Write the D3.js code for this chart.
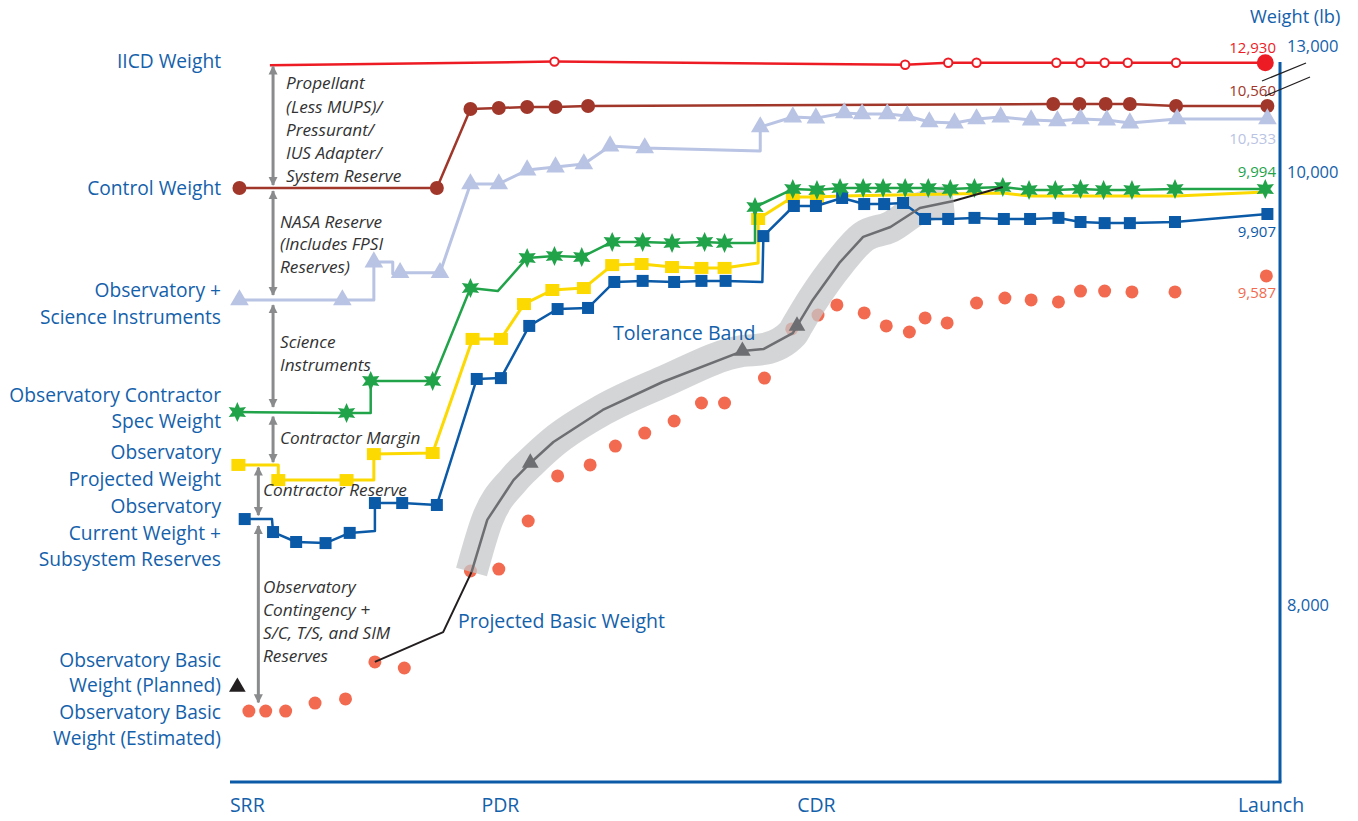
<!DOCTYPE html>
<html>
<head>
<meta charset="utf-8">
<script src="https://cdn.jsdelivr.net/npm/d3@7"></script>
<style>
body { margin: 0; background: #fff; }
text { font-family: "Open Sans", Lato, sans-serif; }
</style>
</head>
<body>
<svg id="chart" width="1358" height="821"></svg>
<script>
// x = percent of program schedule (SRR .. Launch), w = weight in lb

var milestones = ["SRR", "PDR", "CDR", "Launch"];
var milestoneX = [1.6, 25.7, 55.8, 99.1];
var weightTicks = [8000, 10000, 13000];

var iicdX = [3.8, 30.9, 64.3, 68.4, 71.1, 78.7, 81.0, 83.3, 85.5, 90.1, 98.6];
var iicdW = [12920, 12935, 12922, 12930, 12930, 12930, 12930, 12930, 12930, 12930, 12930];
var iicdMk = [0, 1, 1, 1, 1, 1, 1, 1, 1, 1, 2];

var controlX = [0.9, 19.7, 22.9, 25.6, 28.3, 31.0, 34.1, 78.4, 80.9, 83.4, 85.7, 90.1, 98.8];
var controlW = [9926, 9926, 10291, 10296, 10300, 10300, 10305, 10314, 10314, 10314, 10314, 10305, 10305];

var obsSciX = [0.9, 10.7, 13.7, 13.7, 15.5, 15.5, 16.2, 20.0, 22.9, 25.6, 28.3, 31.0, 33.7, 36.2, 39.5, 50.5, 50.5,
               53.6, 55.8, 58.5, 60.2, 62.6, 64.5, 66.6, 69.0, 71.1, 73.4, 76.3, 78.8, 81.0, 83.5, 85.7, 90.2, 98.8];
var obsSciW = [9409, 9409, 9409, 9584, 9584, 9530, 9535, 9535, 9945, 9945, 10009, 10023, 10037, 10120, 10111, 10097, 10208,
               10254, 10249, 10273, 10268, 10268, 10259, 10231, 10226, 10245, 10254, 10240, 10236, 10245, 10240, 10226, 10245, 10245];
var obsSciMk = [1, 1, 0, 1, 0, 0, 1, 1, 1, 1, 1, 1, 1, 1, 1, 0, 1,
                1, 1, 1, 1, 1, 1, 1, 1, 1, 1, 1, 1, 1, 1, 1, 1, 1];

var specX = [0.7, 11.1, 13.4, 13.4, 19.3, 22.9, 25.5, 28.3, 30.9, 33.5, 36.4, 39.3, 42.1, 45.2, 47.1, 50.0, 50.0,
             53.6, 55.9, 58.1, 60.3, 62.2, 64.3, 66.5, 68.6, 70.9, 73.6, 76.1, 78.6, 81.0, 83.2, 85.9, 90.0, 98.6];
var specW = [8891, 8887, 8887, 9035, 9035, 9464, 9450, 9603, 9612, 9607, 9677, 9677, 9672, 9677, 9672, 9672, 9838,
             9921, 9917, 9926, 9926, 9926, 9926, 9926, 9921, 9926, 9931, 9917, 9917, 9921, 9917, 9917, 9921, 9921];
var specMk = [1, 1, 0, 1, 1, 1, 0, 1, 1, 1, 1, 1, 1, 1, 1, 0, 1,
              1, 1, 1, 1, 1, 1, 1, 1, 1, 1, 1, 1, 1, 1, 1, 1, 1];

var projX = [0.8, 4.6, 4.6, 11.1, 13.7, 13.7, 19.3, 23.1, 25.8, 28.0, 30.7, 33.7, 36.4, 39.2, 42.1, 44.9, 47.1, 50.3, 50.3,
             53.6, 55.9, 58.2, 73.6, 76.2, 90.1, 98.6];
var projW = [8647, 8647, 8577, 8577, 8577, 8697, 8702, 9229, 9229, 9390, 9455, 9464, 9570, 9575, 9561, 9557, 9557, 9580, 9783,
             9885, 9885, 9889, 9903, 9889, 9889, 9908];
var projMk = [1, 0, 1, 1, 0, 1, 1, 1, 1, 1, 1, 1, 1, 1, 1, 1, 1, 0, 1,
              1, 1, 0, 0, 0, 0, 0];

var currX = [1.4, 4.0, 4.1, 6.3, 9.1, 11.4, 13.8, 13.8, 16.4, 19.7, 23.5, 25.8, 28.5, 31.2, 34.1, 36.6, 39.3, 42.3, 44.9, 47.2,
             50.7, 50.8, 53.7, 55.8, 58.3, 60.4, 62.3, 64.1, 66.2, 68.4, 70.9, 73.7, 76.2, 78.9, 81.0, 83.3, 85.7, 90.0, 98.8];
var currW = [8397, 8397, 8337, 8291, 8286, 8333, 8342, 8471, 8471, 8462, 9044, 9048, 9289, 9367, 9372, 9492, 9497, 9492, 9497, 9497,
             9492, 9704, 9843, 9843, 9880, 9852, 9852, 9857, 9783, 9783, 9788, 9783, 9783, 9788, 9769, 9764, 9764, 9769, 9806];
var currMk = [1, 0, 1, 1, 1, 1, 0, 1, 1, 1, 1, 1, 1, 1, 1, 1, 1, 1, 1, 1,
              0, 1, 1, 1, 1, 1, 1, 1, 1, 1, 1, 1, 1, 1, 1, 1, 1, 1, 1];

var estX = [1.8, 3.4, 5.3, 8.1, 11.0, 13.8, 16.6, 22.9, 25.6, 28.4, 31.2, 34.3, 36.7, 39.5, 42.3, 44.9, 47.1, 50.9,
            53.5, 56.0, 57.8, 60.4, 62.5, 64.7, 66.2, 68.3, 71.1, 73.8, 76.3, 78.9, 81.0, 83.3, 85.9, 90.0, 98.7];
var estW = [7510, 7510, 7510, 7547, 7566, 7737, 7709, 8157, 8166, 8388, 8596, 8647, 8734, 8794, 8850, 8933, 8933, 9048,
            9275, 9339, 9386, 9349, 9289, 9261, 9326, 9303, 9395, 9418, 9409, 9400, 9450, 9450, 9446, 9446, 9520];

var basicX = [13.8, 20.3, 23.0, 24.5, 27.0, 28.6, 30.8, 35.5, 41.2, 48.8, 50.8, 53.6, 54.0, 55.5, 58.1, 60.3, 62.9, 65.7, 68.9, 73.6];
var basicW = [7737, 7875, 8152, 8393, 8577, 8656, 8753, 8901, 9030, 9173, 9182, 9256, 9289, 9409, 9584, 9700, 9746, 9834, 9866, 9931];
var basicTri = [5, 9, 12];

var plannedX = [0.7];
var plannedW = [7621];

var endLabels = ["12,930", "10,560", "10,533", "9,994", "9,907", "9,587"];

// ---------------------------------------------------------------

var BLUE = "#1461ab";
var svg = d3.select("#chart");

var x = d3.scaleLinear().domain([0, 100]).range([230, 1280]);
// broken weight axis: compressed between 10,450 and 12,900
var y = d3.scaleLinear()
    .domain([7000, 10000, 10450, 12900, 13000])
    .range([821.5, 172, 74.6, 70, 46]);

function pts(xs, ws, mk) {
    return xs.map(function(v, i) { return {x: v, w: ws[i], m: mk ? mk[i] : 1}; });
}

var line = d3.line()
    .x(function(d) { return x(d.x); })
    .y(function(d) { return y(d.w); });

function star6(R, r) {
    var p = d3.path();
    for (var i = 0; i < 12; i++) {
        var a = -Math.PI / 2 + i * Math.PI / 6;
        var rr = i % 2 ? r : R;
        if (i === 0) p.moveTo(rr * Math.cos(a), rr * Math.sin(a));
        else p.lineTo(rr * Math.cos(a), rr * Math.sin(a));
    }
    p.closePath();
    return p.toString();
}

function drawLine(data, color, width) {
    svg.append("path")
        .datum(data)
        .attr("d", line)
        .attr("fill", "none")
        .attr("stroke", color)
        .attr("stroke-width", width)
        .attr("stroke-linejoin", "round");
}

// estimated basic weight dots (under the band)
svg.append("g").selectAll("circle")
    .data(pts(estX, estW))
    .enter().append("circle")
    .attr("cx", function(d) { return x(d.x); })
    .attr("cy", function(d) { return y(d.w); })
    .attr("r", 6.5)
    .attr("fill", "#f26b50");

// tolerance band
var basic = pts(basicX, basicW);
svg.append("path")
    .datum(basic.slice(2, 19))
    .attr("d", line.curve(d3.curveMonotoneX))
    .attr("fill", "none")
    .attr("stroke", "#c6c7c9")
    .attr("stroke-opacity", 0.75)
    .attr("stroke-width", 32)
    .attr("stroke-linejoin", "round");
line.curve(d3.curveLinear);

// IICD weight
var iicd = pts(iicdX, iicdW, iicdMk);
drawLine(iicd, "#ed1c24", 2.5);
svg.append("g").selectAll("circle")
    .data(iicd.filter(function(d) { return d.m > 0; }))
    .enter().append("circle")
    .attr("cx", function(d) { return x(d.x); })
    .attr("cy", function(d) { return y(d.w); })
    .attr("r", function(d) { return d.m === 2 ? 7.5 : 4.2; })
    .attr("fill", function(d) { return d.m === 2 ? "#ed1c24" : "#fff"; })
    .attr("stroke", "#ed1c24")
    .attr("stroke-width", 2);

// control weight
var control = pts(controlX, controlW);
drawLine(control, "#a0372a", 2.5);
svg.append("g").selectAll("circle")
    .data(control)
    .enter().append("circle")
    .attr("cx", function(d) { return x(d.x); })
    .attr("cy", function(d) { return y(d.w); })
    .attr("r", 7)
    .attr("fill", "#a0372a");

// observatory + science instruments
var obsSci = pts(obsSciX, obsSciW, obsSciMk);
drawLine(obsSci, "#b9c3e3", 3);
svg.append("g").selectAll("path")
    .data(obsSci.filter(function(d) { return d.m; }))
    .enter().append("path")
    .attr("d", d3.symbol().type(d3.symbolTriangle).size(150))
    .attr("transform", function(d) { return "translate(" + x(d.x) + "," + y(d.w) + ")"; })
    .attr("fill", "#b9c3e3");

// projected weight (yellow)
var proj = pts(projX, projW, projMk);
drawLine(proj, "#fcd900", 3);
svg.append("g").selectAll("rect")
    .data(proj.filter(function(d) { return d.m; }))
    .enter().append("rect")
    .attr("x", function(d) { return x(d.x) - 7; })
    .attr("y", function(d) { return y(d.w) - 6; })
    .attr("width", 14)
    .attr("height", 12)
    .attr("fill", "#fcd900");

// current weight + subsystem reserves (blue)
var curr = pts(currX, currW, currMk);
drawLine(curr, "#0b5aa8", 2.5);
svg.append("g").selectAll("rect")
    .data(curr.filter(function(d) { return d.m; }))
    .enter().append("rect")
    .attr("x", function(d) { return x(d.x) - 6; })
    .attr("y", function(d) { return y(d.w) - 6; })
    .attr("width", 12)
    .attr("height", 12)
    .attr("fill", "#0b5aa8");

// contractor spec weight (green stars)
var spec = pts(specX, specW, specMk);
drawLine(spec, "#21a34a", 2.5);
svg.append("g").selectAll("path")
    .data(spec.filter(function(d) { return d.m; }))
    .enter().append("path")
    .attr("d", star6(10, 5))
    .attr("transform", function(d) { return "translate(" + x(d.x) + "," + y(d.w) + ")"; })
    .attr("fill", "#21a34a");

// projected basic weight line
drawLine(basic.slice(0, 3), "#231f20", 2);
drawLine(basic.slice(2, 19), "#6d6e71", 2.5);
drawLine(basic.slice(18), "#231f20", 2);
svg.append("g").selectAll("path")
    .data(basicTri.map(function(i) { return basic[i]; }))
    .enter().append("path")
    .attr("d", d3.symbol().type(d3.symbolTriangle).size(120))
    .attr("transform", function(d) { return "translate(" + x(d.x) + "," + y(d.w) + ")"; })
    .attr("fill", "#6d6e71");

// planned basic weight marker
svg.append("g").selectAll("path")
    .data(pts(plannedX, plannedW))
    .enter().append("path")
    .attr("d", d3.symbol().type(d3.symbolTriangle).size(120))
    .attr("transform", function(d) { return "translate(" + x(d.x) + "," + y(d.w) + ")"; })
    .attr("fill", "#231f20");

// end value labels
var ends = [
    {s: iicd, c: "#ed1c24", dy: -15},
    {s: control, c: "#a0372a", dy: -15},
    {s: obsSci, c: "#b9c3e3", dy: 20},
    {s: spec, c: "#21a34a", dy: -17},
    {s: curr, c: "#0b5aa8", dy: 18},
    {s: pts(estX, estW), c: "#f26b50", dy: 17}
];
ends.forEach(function(e, i) {
    var last = e.s[e.s.length - 1];
    svg.append("text")
        .attr("x", 1276)
        .attr("y", y(last.w) + e.dy)
        .attr("dy", "0.35em")
        .attr("text-anchor", "end")
        .attr("font-size", 15)
        .attr("fill", e.c)
        .text(endLabels[i]);
});

// gray double arrows
var defs = svg.append("defs");
defs.append("marker")
    .attr("id", "ah")
    .attr("viewBox", "0 0 10 10")
    .attr("refX", 9).attr("refY", 5)
    .attr("markerUnits", "userSpaceOnUse")
    .attr("markerWidth", 9).attr("markerHeight", 11)
    .attr("orient", "auto-start-reverse")
    .append("path")
    .attr("d", "M0,0L10,5L0,10Z")
    .attr("fill", "#8a8b8d");

var arrows = [
    [4.1, 12915, 9940], [4.1, 9912, 9432], [4.1, 9385, 8915],
    [4.1, 8870, 8660], [2.7, 8635, 8415], [2.7, 8365, 7550]
];
arrows.forEach(function(a) {
    svg.append("line")
        .attr("x1", x(a[0])).attr("x2", x(a[0]))
        .attr("y1", y(a[1])).attr("y2", y(a[2]))
        .attr("stroke", "#8a8b8d")
        .attr("stroke-width", 3)
        .attr("marker-start", "url(#ah)")
        .attr("marker-end", "url(#ah)");
});

// text blocks
function block(lines, x0, ys, size, color, style, anchor) {
    lines.forEach(function(t, i) {
        svg.append("text")
            .attr("x", x0).attr("y", ys[i])
            .attr("dy", "0.35em")
            .attr("font-size", size)
            .attr("font-style", style || "normal")
            .attr("text-anchor", anchor || "start")
            .attr("fill", color)
            .text(t);
    });
}
var GRAYTXT = "#333333";
var IT = 17.2;
block(["Propellant", "(Less MUPS)/", "Pressurant/", "IUS Adapter/", "System Reserve"], 286, [83, 107, 130, 153, 176], IT, GRAYTXT, "italic");
block(["NASA Reserve", "(Includes FPSI", "Reserves)"], 280, [222, 244, 267], IT, GRAYTXT, "italic");
block(["Science", "Instruments"], 280, [342, 365], IT, GRAYTXT, "italic");
block(["Contractor Margin"], 280, [438], IT, GRAYTXT, "italic");
block(["Contractor Reserve"], 263, [490], IT, GRAYTXT, "italic");
block(["Observatory", "Contingency +", "S/C, T/S, and SIM", "Reserves"], 263, [587, 610, 633, 656], IT, GRAYTXT, "italic");

// left series labels
var LB = 19.2;
block(["IICD Weight"], 221, [61], LB, BLUE, null, "end");
block(["Control Weight"], 221, [188], LB, BLUE, null, "end");
block(["Observatory +", "Science Instruments"], 221, [290, 317], LB, BLUE, null, "end");
block(["Observatory Contractor", "Spec Weight"], 221, [395, 421], LB, BLUE, null, "end");
block(["Observatory", "Projected Weight"], 221, [452, 479], LB, BLUE, null, "end");
block(["Observatory", "Current Weight +", "Subsystem Reserves"], 221, [506, 533, 559], LB, BLUE, null, "end");
block(["Observatory Basic", "Weight (Planned)"], 221, [660, 685], LB, BLUE, null, "end");
block(["Observatory Basic", "Weight (Estimated)"], 221, [712, 738], LB, BLUE, null, "end");

block(["Tolerance Band"], 613, [333], 19.6, BLUE);
block(["Projected Basic Weight"], 458, [621], 19.5, BLUE);

// axes
svg.append("line")
    .attr("x1", x(0)).attr("x2", x(100) + 1.5)
    .attr("y1", 782).attr("y2", 782)
    .attr("stroke", "#0b5aa8").attr("stroke-width", 3);
svg.append("line")
    .attr("x1", x(100)).attr("x2", x(100))
    .attr("y1", 62).attr("y2", 782)
    .attr("stroke", "#0b5aa8").attr("stroke-width", 3);

var yAxis = svg.append("g")
    .attr("transform", "translate(" + x(100) + ",0)")
    .call(d3.axisRight(y).tickValues(weightTicks).tickSize(0).tickPadding(7).tickFormat(d3.format(",")));
yAxis.select(".domain").remove();
yAxis.selectAll("text")
    .attr("font-family", "'Open Sans', Lato, sans-serif")
    .attr("font-size", 16.5)
    .attr("fill", BLUE);

var xAxis = svg.append("g")
    .attr("transform", "translate(0,782)")
    .call(d3.axisBottom(x).tickValues(milestoneX).tickSize(0).tickPadding(16)
        .tickFormat(function(d, i) { return milestones[i]; }));
xAxis.select(".domain").remove();
xAxis.selectAll("text")
    .attr("font-family", "'Open Sans', Lato, sans-serif")
    .attr("font-size", 19.5)
    .attr("fill", BLUE);

svg.append("text")
    .attr("x", 1250).attr("y", 17)
    .attr("dy", "0.35em")
    .attr("font-size", 18.2)
    .attr("fill", BLUE)
    .text("Weight (lb)");

// axis break marks
svg.append("line").attr("x1", 1262).attr("y1", 81).attr("x2", 1306).attr("y2", 63)
    .attr("stroke", "#231f20").attr("stroke-width", 1.3);
svg.append("line").attr("x1", 1265).attr("y1", 96).attr("x2", 1310).attr("y2", 77)
    .attr("stroke", "#231f20").attr("stroke-width", 1.3);
</script>
</body>
</html>
